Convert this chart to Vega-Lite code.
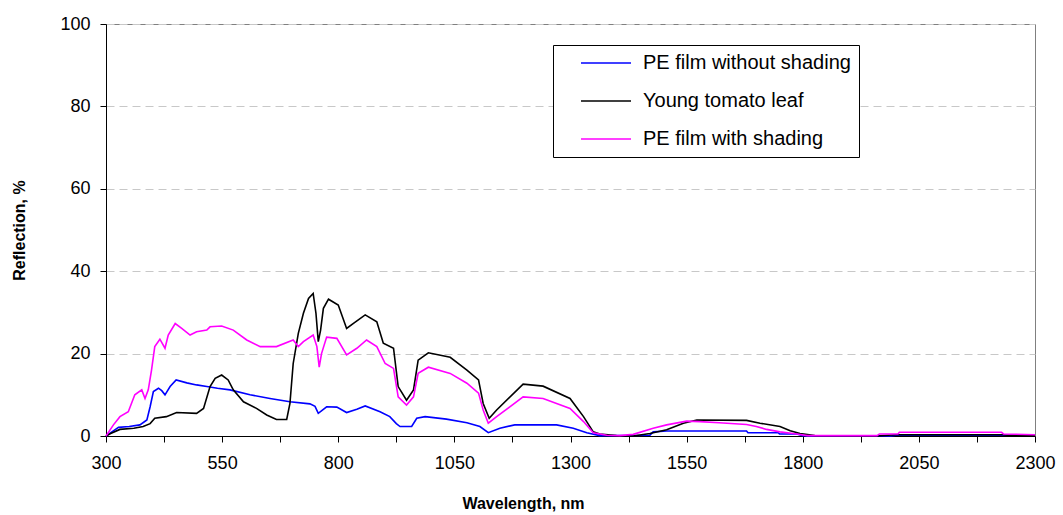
{
  "$schema": "https://vega.github.io/schema/vega-lite/v6.json",
  "autosize": "none",
  "width": 929,
  "height": 412,
  "padding": {"left": 106, "top": 24, "right": 28, "bottom": 79},
  "background": "white",
  "config": {
    "view": {"stroke": "#808080", "strokeWidth": 1},
    "font": "Liberation Sans",
    "axis": {"labelFont": "Liberation Sans", "titleFont": "Liberation Sans", "labelColor": "black", "titleColor": "black", "tickColor": "black", "domainColor": "black"}
  },
  "data": {"values": [
    {"s":"PE film without shading","x":300,"y":0},{"s":"PE film without shading","x":315,"y":1.2},{"s":"PE film without shading","x":327,"y":2.1},{"s":"PE film without shading","x":350,"y":2.3},{"s":"PE film without shading","x":373,"y":2.7},{"s":"PE film without shading","x":388,"y":3.9},{"s":"PE film without shading","x":395,"y":7.1},{"s":"PE film without shading","x":402,"y":10.8},{"s":"PE film without shading","x":413,"y":11.6},{"s":"PE film without shading","x":420,"y":11},{"s":"PE film without shading","x":427,"y":10},{"s":"PE film without shading","x":438,"y":12},{"s":"PE film without shading","x":451,"y":13.6},{"s":"PE film without shading","x":474,"y":12.9},{"s":"PE film without shading","x":495,"y":12.4},{"s":"PE film without shading","x":517,"y":12},{"s":"PE film without shading","x":540,"y":11.6},{"s":"PE film without shading","x":567,"y":11.2},{"s":"PE film without shading","x":610,"y":10},{"s":"PE film without shading","x":653,"y":9.1},{"s":"PE film without shading","x":696,"y":8.3},{"s":"PE film without shading","x":739,"y":7.8},{"s":"PE film without shading","x":750,"y":7.2},{"s":"PE film without shading","x":757,"y":5.5},{"s":"PE film without shading","x":775,"y":7.1},{"s":"PE film without shading","x":797,"y":7.0},{"s":"PE film without shading","x":818,"y":5.7},{"s":"PE film without shading","x":840,"y":6.5},{"s":"PE film without shading","x":858,"y":7.3},{"s":"PE film without shading","x":890,"y":5.9},{"s":"PE film without shading","x":911,"y":4.7},{"s":"PE film without shading","x":925,"y":3.0},{"s":"PE film without shading","x":933,"y":2.3},{"s":"PE film without shading","x":958,"y":2.3},{"s":"PE film without shading","x":969,"y":4.3},{"s":"PE film without shading","x":987,"y":4.7},{"s":"PE film without shading","x":1033,"y":4.1},{"s":"PE film without shading","x":1077,"y":3.2},{"s":"PE film without shading","x":1105,"y":2.3},{"s":"PE film without shading","x":1123,"y":0.8},{"s":"PE film without shading","x":1148,"y":1.9},{"s":"PE film without shading","x":1180,"y":2.7},{"s":"PE film without shading","x":1270,"y":2.7},{"s":"PE film without shading","x":1306,"y":1.9},{"s":"PE film without shading","x":1335,"y":0.8},{"s":"PE film without shading","x":1363,"y":0.1},{"s":"PE film without shading","x":1471,"y":0.2},{"s":"PE film without shading","x":1478,"y":1.0},{"s":"PE film without shading","x":1507,"y":1.2},{"s":"PE film without shading","x":1679,"y":1.2},{"s":"PE film without shading","x":1682,"y":0.8},{"s":"PE film without shading","x":1747,"y":0.8},{"s":"PE film without shading","x":1750,"y":0.5},{"s":"PE film without shading","x":1787,"y":0.5},{"s":"PE film without shading","x":1800,"y":0.1},{"s":"PE film without shading","x":1830,"y":0},{"s":"PE film without shading","x":1990,"y":0},{"s":"PE film without shading","x":2000,"y":0.2},{"s":"PE film without shading","x":2300,"y":0.2},
    {"s":"Young tomato leaf","x":300,"y":0},{"s":"Young tomato leaf","x":310,"y":0.6},{"s":"Young tomato leaf","x":330,"y":1.6},{"s":"Young tomato leaf","x":360,"y":1.9},{"s":"Young tomato leaf","x":380,"y":2.3},{"s":"Young tomato leaf","x":395,"y":3.0},{"s":"Young tomato leaf","x":405,"y":4.3},{"s":"Young tomato leaf","x":430,"y":4.7},{"s":"Young tomato leaf","x":452,"y":5.7},{"s":"Young tomato leaf","x":495,"y":5.5},{"s":"Young tomato leaf","x":510,"y":6.7},{"s":"Young tomato leaf","x":524,"y":12},{"s":"Young tomato leaf","x":535,"y":14},{"s":"Young tomato leaf","x":549,"y":14.8},{"s":"Young tomato leaf","x":563,"y":13.6},{"s":"Young tomato leaf","x":574,"y":11.2},{"s":"Young tomato leaf","x":596,"y":8.3},{"s":"Young tomato leaf","x":624,"y":6.7},{"s":"Young tomato leaf","x":646,"y":5.1},{"s":"Young tomato leaf","x":667,"y":4.0},{"s":"Young tomato leaf","x":689,"y":4.0},{"s":"Young tomato leaf","x":696,"y":7.9},{"s":"Young tomato leaf","x":703,"y":17.6},{"s":"Young tomato leaf","x":714,"y":24.9},{"s":"Young tomato leaf","x":725,"y":29.8},{"s":"Young tomato leaf","x":736,"y":33.4},{"s":"Young tomato leaf","x":746,"y":34.6},{"s":"Young tomato leaf","x":752,"y":29.8},{"s":"Young tomato leaf","x":757,"y":22.9},{"s":"Young tomato leaf","x":762,"y":25.7},{"s":"Young tomato leaf","x":768,"y":31},{"s":"Young tomato leaf","x":779,"y":33.2},{"s":"Young tomato leaf","x":800,"y":31.8},{"s":"Young tomato leaf","x":818,"y":26.1},{"s":"Young tomato leaf","x":832,"y":27.3},{"s":"Young tomato leaf","x":858,"y":29.4},{"s":"Young tomato leaf","x":883,"y":27.7},{"s":"Young tomato leaf","x":897,"y":22.5},{"s":"Young tomato leaf","x":919,"y":21.3},{"s":"Young tomato leaf","x":929,"y":12},{"s":"Young tomato leaf","x":947,"y":8.7},{"s":"Young tomato leaf","x":962,"y":11.2},{"s":"Young tomato leaf","x":972,"y":18.4},{"s":"Young tomato leaf","x":994,"y":20.2},{"s":"Young tomato leaf","x":1041,"y":19.1},{"s":"Young tomato leaf","x":1077,"y":16},{"s":"Young tomato leaf","x":1102,"y":13.6},{"s":"Young tomato leaf","x":1112,"y":7.9},{"s":"Young tomato leaf","x":1125,"y":4.3},{"s":"Young tomato leaf","x":1141,"y":6.3},{"s":"Young tomato leaf","x":1198,"y":12.6},{"s":"Young tomato leaf","x":1241,"y":12.1},{"s":"Young tomato leaf","x":1299,"y":9.1},{"s":"Young tomato leaf","x":1328,"y":4.7},{"s":"Young tomato leaf","x":1349,"y":1.0},{"s":"Young tomato leaf","x":1363,"y":0.5},{"s":"Young tomato leaf","x":1399,"y":0.1},{"s":"Young tomato leaf","x":1435,"y":0},{"s":"Young tomato leaf","x":1471,"y":0.6},{"s":"Young tomato leaf","x":1507,"y":1.5},{"s":"Young tomato leaf","x":1543,"y":3.1},{"s":"Young tomato leaf","x":1572,"y":3.9},{"s":"Young tomato leaf","x":1679,"y":3.8},{"s":"Young tomato leaf","x":1708,"y":3.1},{"s":"Young tomato leaf","x":1751,"y":2.3},{"s":"Young tomato leaf","x":1773,"y":1.3},{"s":"Young tomato leaf","x":1794,"y":0.6},{"s":"Young tomato leaf","x":1826,"y":0.1},{"s":"Young tomato leaf","x":1960,"y":0},{"s":"Young tomato leaf","x":2000,"y":0.3},{"s":"Young tomato leaf","x":2230,"y":0.3},{"s":"Young tomato leaf","x":2240,"y":0.2},{"s":"Young tomato leaf","x":2300,"y":0.2},
    {"s":"PE film with shading","x":300,"y":0},{"s":"PE film with shading","x":316,"y":2.7},{"s":"PE film with shading","x":330,"y":4.7},{"s":"PE film with shading","x":348,"y":5.9},{"s":"PE film with shading","x":362,"y":10},{"s":"PE film with shading","x":377,"y":11.2},{"s":"PE film with shading","x":384,"y":9.1},{"s":"PE film with shading","x":391,"y":11.2},{"s":"PE film with shading","x":398,"y":16},{"s":"PE film with shading","x":405,"y":21.7},{"s":"PE film with shading","x":416,"y":23.5},{"s":"PE film with shading","x":427,"y":21.3},{"s":"PE film with shading","x":434,"y":24.5},{"s":"PE film with shading","x":449,"y":27.3},{"s":"PE film with shading","x":463,"y":26.1},{"s":"PE film with shading","x":481,"y":24.5},{"s":"PE film with shading","x":495,"y":25.3},{"s":"PE film with shading","x":517,"y":25.7},{"s":"PE film with shading","x":524,"y":26.5},{"s":"PE film with shading","x":549,"y":26.7},{"s":"PE film with shading","x":574,"y":25.7},{"s":"PE film with shading","x":603,"y":23.3},{"s":"PE film with shading","x":632,"y":21.7},{"s":"PE film with shading","x":667,"y":21.7},{"s":"PE film with shading","x":703,"y":23.3},{"s":"PE film with shading","x":714,"y":21.7},{"s":"PE film with shading","x":725,"y":22.9},{"s":"PE film with shading","x":746,"y":24.5},{"s":"PE film with shading","x":754,"y":21.7},{"s":"PE film with shading","x":759,"y":16.7},{"s":"PE film with shading","x":764,"y":20},{"s":"PE film with shading","x":775,"y":24},{"s":"PE film with shading","x":797,"y":23.7},{"s":"PE film with shading","x":818,"y":19.7},{"s":"PE film with shading","x":840,"y":21.3},{"s":"PE film with shading","x":861,"y":23.3},{"s":"PE film with shading","x":883,"y":21.7},{"s":"PE film with shading","x":901,"y":17.6},{"s":"PE film with shading","x":919,"y":16.4},{"s":"PE film with shading","x":929,"y":9.5},{"s":"PE film with shading","x":947,"y":7.5},{"s":"PE film with shading","x":962,"y":9.5},{"s":"PE film with shading","x":972,"y":15.2},{"s":"PE film with shading","x":994,"y":16.7},{"s":"PE film with shading","x":1041,"y":15.2},{"s":"PE film with shading","x":1077,"y":12.8},{"s":"PE film with shading","x":1102,"y":10.4},{"s":"PE film with shading","x":1112,"y":6.3},{"s":"PE film with shading","x":1123,"y":3.1},{"s":"PE film with shading","x":1141,"y":4.7},{"s":"PE film with shading","x":1198,"y":9.5},{"s":"PE film with shading","x":1241,"y":9.1},{"s":"PE film with shading","x":1299,"y":6.7},{"s":"PE film with shading","x":1328,"y":3.5},{"s":"PE film with shading","x":1349,"y":0.8},{"s":"PE film with shading","x":1378,"y":0.2},{"s":"PE film with shading","x":1406,"y":0.1},{"s":"PE film with shading","x":1435,"y":0.4},{"s":"PE film with shading","x":1478,"y":1.9},{"s":"PE film with shading","x":1507,"y":2.7},{"s":"PE film with shading","x":1550,"y":3.6},{"s":"PE film with shading","x":1579,"y":3.5},{"s":"PE film with shading","x":1620,"y":3.2},{"s":"PE film with shading","x":1679,"y":2.8},{"s":"PE film with shading","x":1700,"y":2.3},{"s":"PE film with shading","x":1722,"y":1.6},{"s":"PE film with shading","x":1751,"y":1.0},{"s":"PE film with shading","x":1787,"y":0.5},{"s":"PE film with shading","x":1810,"y":0.1},{"s":"PE film with shading","x":1960,"y":0.1},{"s":"PE film with shading","x":1965,"y":0.5},{"s":"PE film with shading","x":2005,"y":0.5},{"s":"PE film with shading","x":2008,"y":0.9},{"s":"PE film with shading","x":2228,"y":0.9},{"s":"PE film with shading","x":2232,"y":0.5},{"s":"PE film with shading","x":2300,"y":0.3}
  ]},
  "mark": {"type": "line", "strokeWidth": 1.6, "interpolate": "linear"},
  "encoding": {
    "x": {"field": "x", "type": "quantitative",
      "scale": {"domain": [300, 2300], "nice": false, "zero": false},
      "axis": {"title": "Wavelength, nm", "values": [300,425,550,675,800,925,1050,1175,1300,1425,1550,1675,1800,1925,2050,2175,2300],
        "labelExpr": "(datum.value - 300) % 250 == 0 ? datum.label : ''", "format": "d",
        "grid": false, "tickSize": 6, "labelFontSize": 18, "labelPadding": 12, "labelFlush": false,
        "titleFontSize": 16, "titleFontWeight": "bold", "titleX": 417, "titleY": 72, "titleBaseline": "alphabetic", "labelOverlap": false}},
    "y": {"field": "y", "type": "quantitative",
      "scale": {"domain": [0, 100], "nice": false},
      "axis": {"title": "Reflection, %", "values": [0,20,40,60,80,100], "grid": true, "gridDash": [8, 5], "gridColor": "#c8c8c8",
        "tickSize": 6, "labelFontSize": 18, "labelPadding": 10,
        "titleFontSize": 16, "titleFontWeight": "bold", "titleX": -79}},
    "color": {"field": "s", "type": "nominal",
      "scale": {"domain": ["PE film without shading", "Young tomato leaf", "PE film with shading"], "range": ["#0000ff", "#000000", "#ff00ff"]},
      "sort": ["PE film without shading", "Young tomato leaf", "PE film with shading"],
      "legend": {"title": null, "orient": "none", "legendX": 447, "legendY": 21, "direction": "vertical",
        "strokeColor": "black", "fillColor": "white", "padding": 8,
        "symbolType": "M-1,0H9", "symbolSize": 100, "symbolStrokeWidth": 1.5, "symbolOffset": 15,
        "labelFontSize": 20, "labelFont": "Liberation Sans", "labelColor": "black", "labelOffset": 47, "labelLimit": 400, "rowPadding": 18}}
  }
}
